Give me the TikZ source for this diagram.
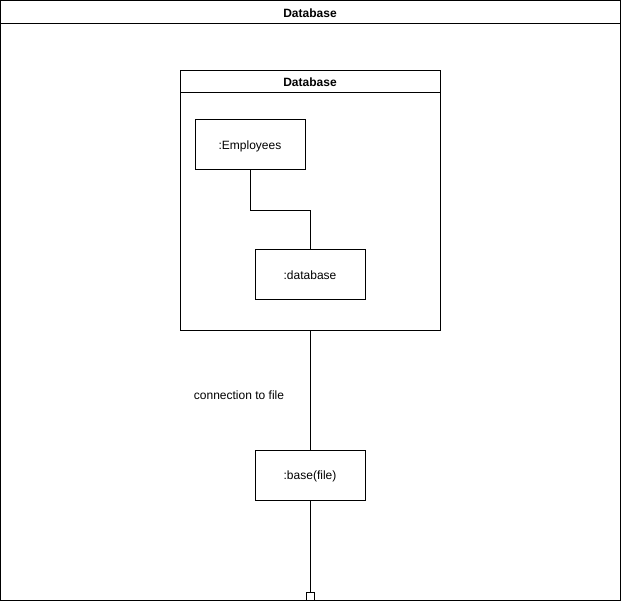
\documentclass[tikz,border=0pt]{standalone}
\usepackage{fontspec}
\setmainfont{Liberation Sans}
\begin{document}
\begin{tikzpicture}[x=1pt,y=-1pt,line width=1pt,
  font=\fontsize{12}{14}\selectfont,
  objbox/.style={draw,rectangle,minimum width=110pt,minimum height=50pt,inner sep=0pt,text depth=0pt},
  frame/.style={draw,rectangle,inner sep=0pt},
  title/.style={font=\fontsize{12}{14}\selectfont\bfseries},
  portbox/.style={draw,rectangle,minimum size=8pt,inner sep=0pt,fill=white}]
\useasboundingbox (0,0) rectangle (621,609);

% outer package frame
\node[frame,minimum width=619.5pt,minimum height=599.5pt] (outer) at (310.25,300.25) {};
\coordinate (outerhl) at (0.5,24);
\coordinate (outerhr) at (620,24);
\draw (outerhl) -- (outerhr);
\node[title] (outertitle) at (310,13) {Database};

% inner component frame
\node[frame,minimum width=259.5pt,minimum height=260pt] (inner) at (310.25,200.5) {};
\coordinate (innerhl) at (180.5,93);
\coordinate (innerhr) at (440,93);
\draw (innerhl) -- (innerhr);
\node[title] (innertitle) at (310,82.5) {Database};

% objects
\node[objbox] (emp) at (250,145) {:Employees};
\node[objbox] (db) at (310,275) {:database};
\node[objbox] (base) at (310,475) {:base(file)};
\node[portbox] (port) at (310,596) {};

% connectors
\draw (emp.south) -- ++(0,40) -| (db.north);
\draw (inner.south -| base.north) -- (base.north);
\draw (base.south) -- (port.north);
\node (conn) at (239,395) {connection to file};
\end{tikzpicture}
\end{document}
